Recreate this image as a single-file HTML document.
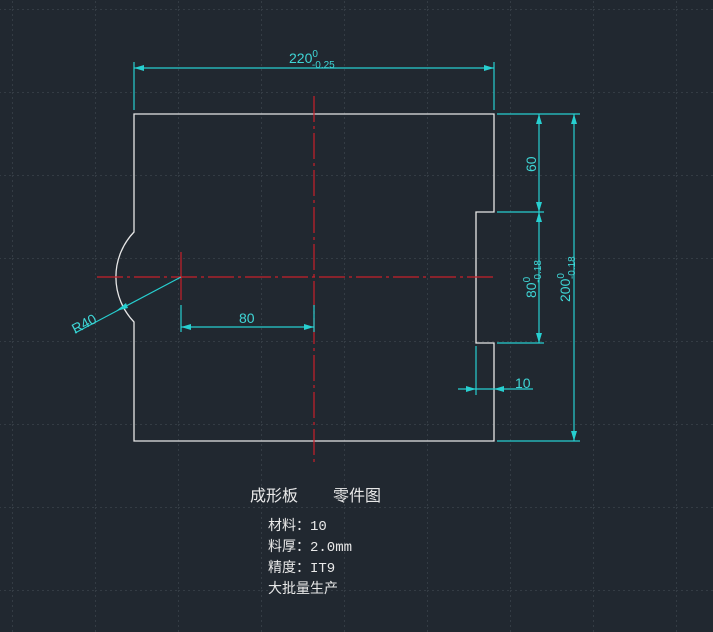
<!DOCTYPE html>
<html><head><meta charset="utf-8"><style>
html,body{margin:0;padding:0;background:#212830;}
svg{display:block}
text{font-family:"Liberation Sans",sans-serif;}
.cn{font-family:"Liberation Mono","Noto Sans CJK SC",monospace;}
</style></head><body>
<svg width="713" height="632" viewBox="0 0 713 632" xmlns="http://www.w3.org/2000/svg">
<defs>
<pattern id="g" x="12" y="9" width="83" height="83" patternUnits="userSpaceOnUse">
<path d="M0.5 0V83M0 0.5H83" stroke="#343c44" stroke-width="1" stroke-dasharray="2 3" fill="none"/>
</pattern>
</defs>
<rect width="713" height="632" fill="#212830"/>
<rect width="713" height="632" fill="url(#g)"/>
<!-- part outline -->
<path d="M134 114H494V212H476V343H494V441H134V322A65 65 0 0 1 134 232Z" fill="none" stroke="#e6e6e6" stroke-width="1.3"/>
<!-- center lines -->
<g stroke="#c8202a" stroke-width="1.2" fill="none">
<path d="M97 277H497" stroke-dasharray="26 4 3 4"/>
<path d="M314 96V462" stroke-dasharray="26 4 3 4"/>
<path d="M181 252V300"/>
</g>
<!-- dims -->
<g stroke="#27cfd0" stroke-width="1.2" fill="#27cfd0">
<path d="M134 62V110M494 62V110M134 68H494" fill="none"/>
<path d="M134 68l10 -3v6zM494 68l-10 -3v6z" stroke="none"/>
<path d="M181 305V332M314 305V332M181 327H314" fill="none"/>
<path d="M181 327l10 -3v6zM314 327l-10 -3v6z" stroke="none"/>
<path d="M497 114H580M497 441H580M497 212H544M497 343H544M539 114V343M574 114V441" fill="none"/>
<path d="M539 114l-3 10h6zM539 212l-3 -10h6zM539 212l-3 10h6zM539 343l-3 -10h6zM574 114l-3 10h6zM574 441l-3 -10h6z" stroke="none"/>
<path d="M476 346V395M458 389H533" fill="none"/>
<path d="M476 389l-10 -3v6zM494 389l10 -3v6z" stroke="none"/>
<path d="M75 333L181 277" fill="none"/>
<path d="M116 311l10 -8 2 5z" stroke="none"/>
</g>
<g fill="#3fd6d6" font-size="14">
<text x="289" y="63">220<tspan font-size="10" dy="-6">0</tspan><tspan font-size="10" dx="-6" dy="11">-0.25</tspan></text>
<text x="239" y="323">80</text>
<text x="515" y="388">10</text>
<text transform="translate(75 334) rotate(-28)">R40</text>
<text transform="translate(536 172) rotate(-90)">60</text>
<text transform="translate(536 298) rotate(-90)">80<tspan font-size="10" dy="-6">0</tspan><tspan font-size="10" dx="-6" dy="11">-0.18</tspan></text>
<text transform="translate(570 302) rotate(-90)">200<tspan font-size="10" dy="-6">0</tspan><tspan font-size="10" dx="-6" dy="11">-0.18</tspan></text>
</g>
<g fill="#e8e8e8" class="cn">
<text x="250" y="501" font-size="16" font-family="Noto Sans CJK SC,sans-serif">成形板</text>
<text x="333" y="501" font-size="16" font-family="Noto Sans CJK SC,sans-serif">零件图</text>
<text x="268" y="530" font-size="14" class="cn">材料：10</text>
<text x="268" y="551" font-size="14" class="cn">料厚：2.0mm</text>
<text x="268" y="572" font-size="14" class="cn">精度：IT9</text>
<text x="268" y="593" font-size="14" class="cn">大批量生产</text>
</g>
</svg>
</body></html>
